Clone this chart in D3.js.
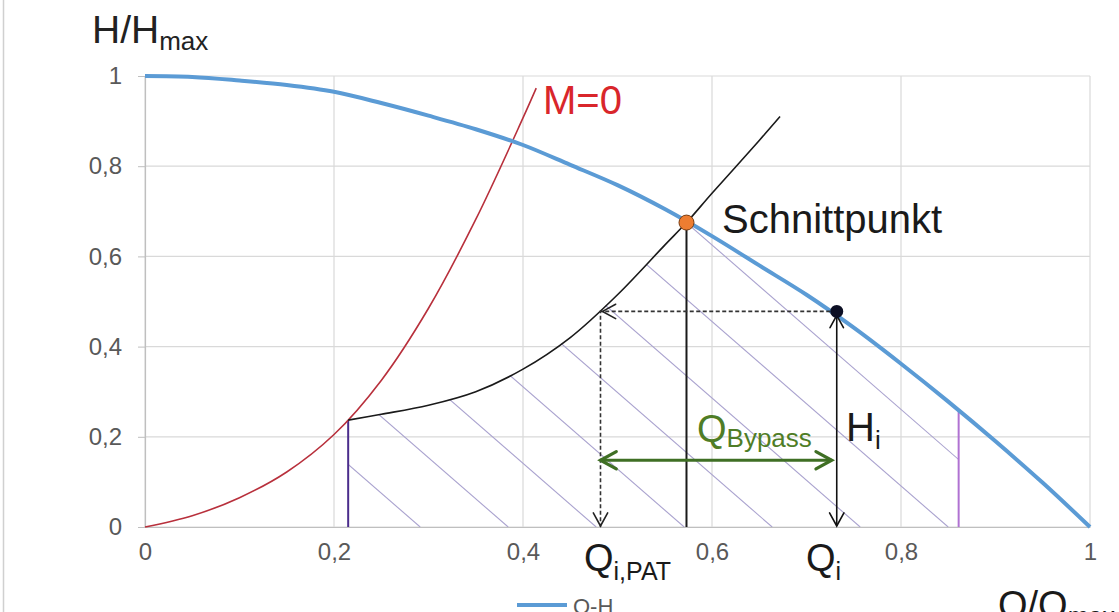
<!DOCTYPE html>
<html>
<head>
<meta charset="utf-8">
<script src="https://cdn.jsdelivr.net/npm/d3@7"></script>
<style>
  html, body { margin: 0; padding: 0; background: #fff; overflow: hidden; }
  svg { display: block; font-family: "Liberation Sans", Arial, sans-serif; }
</style>
</head>
<body>
<svg id="chart" width="1119" height="612"></svg>
<script>
// Pump characteristic Q-H (normalised)
const qhQ = [0, 0.05, 0.1, 0.15, 0.2, 0.25, 0.3, 0.35, 0.4, 0.45, 0.5, 0.55, 0.6, 0.65, 0.7, 0.75, 0.8, 0.85, 0.9, 0.95, 1.0];
const qhH = [1.0, 0.998, 0.99, 0.98, 0.965, 0.94, 0.912, 0.882, 0.847, 0.803, 0.758, 0.705, 0.645, 0.58, 0.515, 0.442, 0.362, 0.278, 0.19, 0.098, 0.0];

// Runaway curve, torque M = 0
const m0Q = [0, 0.05, 0.1, 0.15, 0.2, 0.25, 0.3, 0.35, 0.4, 0.414];
const m0H = [0, 0.025, 0.065, 0.122, 0.205, 0.325, 0.485, 0.682, 0.907, 0.973];

// Turbine (PAT) curve
const patQ = [0.215, 0.25, 0.3, 0.35, 0.4, 0.45, 0.5, 0.55, 0.573, 0.6, 0.65, 0.672];
const patH = [0.237, 0.25, 0.27, 0.30, 0.35, 0.42, 0.515, 0.625, 0.675, 0.74, 0.857, 0.91];

// Axis ticks
const xTicks = [0, 0.2, 0.4, 0.6, 0.8, 1];
const xTickLabels = ["0", "0,2", "0,4", "0,6", "0,8", "1"];
const yTicks = [0, 0.2, 0.4, 0.6, 0.8, 1];
const yTickLabels = ["0", "0,2", "0,4", "0,6", "0,8", "1"];

// Marked operating points
const schnittQ = 0.573, schnittH = 0.675;   // intersection pump / turbine
const opQ = 0.732, opH = 0.478;             // operating point Q_i, H_i
const patOpQ = 0.482;                       // Q_i,PAT
const bypassH = 0.148;                      // level of the bypass arrow
const limitLeftQ = 0.215, limitRightQ = 0.861;

const svg = d3.select("#chart");
const x = d3.scaleLinear().domain([0, 1]).range([145, 1090]);
const y = d3.scaleLinear().domain([0, 1]).range([527, 76]);

const gridColor = "#d9d9d9";
const labelColor = "#595959";
const font = "Liberation Sans, Arial, sans-serif";

// frame edge on the left
svg.append("line").attr("x1", 3.5).attr("x2", 3.5).attr("y1", 0).attr("y2", 612)
  .attr("stroke", "#d0d0d0").attr("stroke-width", 1.5);

// grid
const grid = svg.append("g");
grid.selectAll(".gx").data(xTicks).join("line")
  .attr("x1", d => x(d)).attr("x2", d => x(d))
  .attr("y1", y(0)).attr("y2", y(1))
  .attr("stroke", gridColor).attr("stroke-width", 1.2);
grid.selectAll(".gy").data(yTicks).join("line")
  .attr("x1", x(0)).attr("x2", x(1))
  .attr("y1", d => y(d)).attr("y2", d => y(d))
  .attr("stroke", gridColor).attr("stroke-width", 1.2);

// axes
const yAxis = d3.axisLeft(y).tickValues(yTicks).tickFormat((d, i) => yTickLabels[i])
  .tickSizeInner(7).tickSizeOuter(0).tickPadding(16);
const gy = svg.append("g").attr("transform", `translate(${x(0)},0)`).call(yAxis);
gy.select(".domain").attr("stroke", "#bfbfbf").attr("stroke-width", 1.2);
gy.selectAll(".tick line").attr("stroke", "#bfbfbf");
gy.selectAll(".tick text").attr("fill", labelColor).attr("font-size", 24)
  .attr("font-family", font);

const xAxis = d3.axisBottom(x).tickValues(xTicks).tickFormat((d, i) => xTickLabels[i])
  .tickSize(0).tickPadding(16);
const gx = svg.append("g").attr("transform", `translate(0,${y(0)})`).call(xAxis);
gx.select(".domain").attr("stroke", "#bfbfbf").attr("stroke-width", 1.2);
gx.selectAll(".tick text").attr("fill", labelColor).attr("font-size", 24)
  .attr("font-family", font);

// helpers
const interp = (qs, hs, q) => {
  for (let i = 1; i < qs.length; i++) {
    if (q <= qs[i]) {
      const t = (q - qs[i - 1]) / (qs[i] - qs[i - 1]);
      return hs[i - 1] + t * (hs[i] - hs[i - 1]);
    }
  }
  return hs[hs.length - 1];
};
const pts = (qs, hs) => qs.map((q, i) => [q, hs[i]]);
const smooth = d3.line().x(d => x(d[0])).y(d => y(d[1])).curve(d3.curveCatmullRom.alpha(0.5));
const poly = d3.line().x(d => x(d[0])).y(d => y(d[1]));

// hatched region between the limits, under PAT curve and Q-H curve
const regionPts = [[limitLeftQ, 0], [limitLeftQ, interp(patQ, patH, limitLeftQ)]];
patQ.forEach((q, i) => { if (q > limitLeftQ && q < schnittQ) regionPts.push([q, patH[i]]); });
regionPts.push([schnittQ, schnittH]);
qhQ.forEach((q, i) => { if (q > schnittQ && q < limitRightQ) regionPts.push([q, qhH[i]]); });
regionPts.push([limitRightQ, interp(qhQ, qhH, limitRightQ)]);
regionPts.push([limitRightQ, 0]);

svg.append("clipPath").attr("id", "regionClip")
  .append("path").attr("d", poly(regionPts) + "Z");

const hatchSlope = 0.87;
const hatchStep = 88;
const hatchStarts = d3.range(x(limitLeftQ) - 4 * hatchStep + 72, x(limitRightQ) + 420, hatchStep);
svg.append("g").attr("clip-path", "url(#regionClip)")
  .selectAll("line").data(hatchStarts).join("line")
  .attr("x1", d => d).attr("y1", y(0))
  .attr("x2", d => d - 500).attr("y2", y(0) - 500 * hatchSlope)
  .attr("stroke", "#aaa3cf").attr("stroke-width", 1.1);

// limit lines
svg.append("line")
  .attr("x1", x(limitLeftQ)).attr("x2", x(limitLeftQ))
  .attr("y1", y(0)).attr("y2", y(interp(patQ, patH, limitLeftQ)))
  .attr("stroke", "#4b2d8c").attr("stroke-width", 2);
svg.append("line")
  .attr("x1", x(limitRightQ)).attr("x2", x(limitRightQ))
  .attr("y1", y(0)).attr("y2", y(interp(qhQ, qhH, limitRightQ)))
  .attr("stroke", "#b072d2").attr("stroke-width", 2);

// curves
svg.append("path").attr("d", smooth(pts(m0Q, m0H)))
  .attr("fill", "none").attr("stroke", "#b8303c").attr("stroke-width", 1.6);
svg.append("path").attr("d", smooth(pts(patQ, patH)))
  .attr("fill", "none").attr("stroke", "#1a1a1a").attr("stroke-width", 1.6);
svg.append("path").attr("d", smooth(pts(qhQ, qhH)))
  .attr("fill", "none").attr("stroke", "#5b9bd5").attr("stroke-width", 4)
  .attr("stroke-linejoin", "round");

// open chevron arrow head with its tip at (tx, ty) pointing along angle ang (radians)
function chevron(g, tx, ty, ang, len, color, width) {
  const spread = 0.5;
  const a1 = ang + Math.PI - spread, a2 = ang + Math.PI + spread;
  g.append("path")
    .attr("d", `M${tx + len * Math.cos(a1)},${ty + len * Math.sin(a1)}L${tx},${ty}L${tx + len * Math.cos(a2)},${ty + len * Math.sin(a2)}`)
    .attr("fill", "none").attr("stroke", color).attr("stroke-width", width)
    .attr("stroke-linecap", "round").attr("stroke-linejoin", "miter");
}

const ann = svg.append("g");

// vertical line below the intersection
ann.append("line")
  .attr("x1", x(schnittQ)).attr("x2", x(schnittQ))
  .attr("y1", y(schnittH)).attr("y2", y(0))
  .attr("stroke", "#1a1a1a").attr("stroke-width", 2);

// dashed projection from the operating point to the PAT curve and down
ann.append("path")
  .attr("d", `M${x(opQ)},${y(opH)}L${x(patOpQ)},${y(opH)}L${x(patOpQ)},${y(0)}`)
  .attr("fill", "none").attr("stroke", "#333").attr("stroke-width", 1.6)
  .attr("stroke-dasharray", "4,2.5");
chevron(ann, x(patOpQ) + 2, y(opH), Math.PI, 15, "#222", 1.6);
chevron(ann, x(patOpQ), y(0) - 1, Math.PI / 2, 15, "#222", 1.6);

// H_i arrow
ann.append("line")
  .attr("x1", x(opQ)).attr("x2", x(opQ))
  .attr("y1", y(opH) + 4).attr("y2", y(0) - 1)
  .attr("stroke", "#111").attr("stroke-width", 1.6);
chevron(ann, x(opQ), y(opH) + 4, -Math.PI / 2, 14, "#111", 1.6);
chevron(ann, x(opQ), y(0) - 1, Math.PI / 2, 15, "#111", 1.6);

// bypass arrow
const green = "#3f6f24";
ann.append("line")
  .attr("x1", x(patOpQ)).attr("x2", x(opQ) - 5)
  .attr("y1", y(bypassH)).attr("y2", y(bypassH))
  .attr("stroke", green).attr("stroke-width", 3.2);
chevron(ann, x(patOpQ), y(bypassH), Math.PI, 18, green, 3.2);
chevron(ann, x(opQ) - 5, y(bypassH), 0, 18, green, 3.2);

// markers
ann.append("circle").attr("cx", x(schnittQ)).attr("cy", y(schnittH)).attr("r", 7.5)
  .attr("fill", "#ed7d31").attr("stroke", "#7a3e14").attr("stroke-width", 1);
ann.append("circle").attr("cx", x(opQ)).attr("cy", y(opH)).attr("r", 6.5)
  .attr("fill", "#0c0f24");

// labels
function subLabel(px, py, main, sub, size, subSize, color, subDy) {
  const t = svg.append("text").attr("x", px).attr("y", py)
    .attr("font-family", font).attr("font-size", size).attr("fill", color);
  t.append("tspan").text(main);
  t.append("tspan").attr("font-size", subSize).attr("dy", subDy).text(sub);
  return t;
}

subLabel(92, 43, "H/H", "max", 39, 26, "#222", 7);
svg.append("text").attr("x", 543).attr("y", 114).attr("font-family", font)
  .attr("font-size", 40).attr("fill", "#d9262b").text("M=0");
svg.append("text").attr("x", 722).attr("y", 233).attr("font-family", font)
  .attr("font-size", 40).attr("fill", "#1a1a1a").text("Schnittpunkt");
subLabel(697, 442, "Q", "Bypass", 38, 26, "#4f7d26", 5);
subLabel(846, 441, "H", "i", 40, 26, "#1a1a1a", 8);
subLabel(584, 571, "Q", "i,PAT", 38, 25, "#1a1a1a", 9);
subLabel(806, 571, "Q", "i", 38, 25, "#1a1a1a", 9);
subLabel(998, 618, "Q/Q", "max", 38, 25, "#1a1a1a", 7);

// legend
svg.append("line").attr("x1", 517).attr("x2", 567).attr("y1", 605).attr("y2", 605)
  .attr("stroke", "#5b9bd5").attr("stroke-width", 4);
svg.append("text").attr("x", 573).attr("y", 614).attr("font-family", font)
  .attr("font-size", 22).attr("fill", labelColor).text("Q-H");
</script>
</body>
</html>
